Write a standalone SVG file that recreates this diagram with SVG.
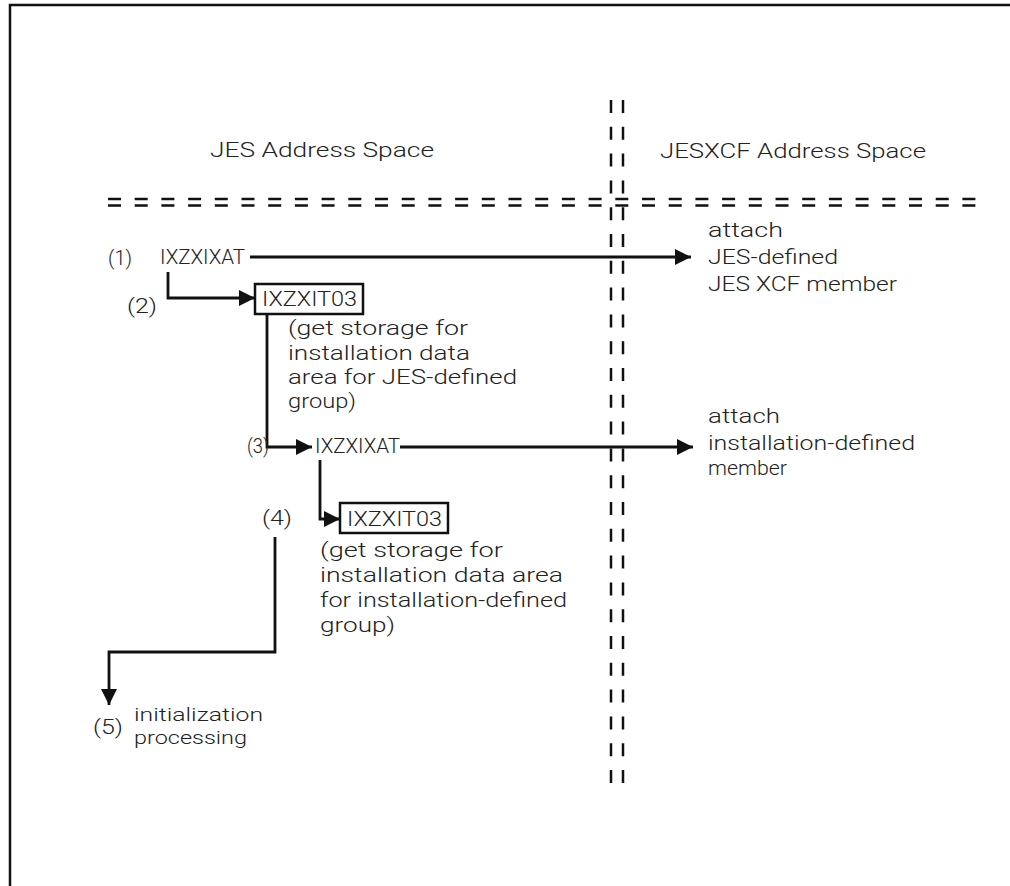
<svg xmlns="http://www.w3.org/2000/svg" width="1010" height="886" viewBox="0 0 1010 886">
<style>
.t{font-family:Roboto,"Liberation Sans",Arial,sans-serif;font-weight:300;font-size:20px;fill:#222;}
.s{font-size:19px;}
.c{font-family:Roboto,"Liberation Sans",Arial,sans-serif;font-weight:300;font-size:21px;fill:#222;}
.ln{fill:none;stroke:#111;stroke-width:2.8;}
.box{fill:#fff;stroke:#111;stroke-width:2.5;}
.dh{fill:none;stroke:#111;stroke-width:2.5;stroke-dasharray:13 13.7;}
.dv{fill:none;stroke:#111;stroke-width:2.5;stroke-dasharray:13 13.8;}
</style>
<defs>
<marker id="ah" markerUnits="userSpaceOnUse" markerWidth="16" markerHeight="16" refX="16" refY="8" orient="auto">
<path d="M0,0 L16,8 L0,16 z" fill="#111"/>
</marker>
</defs>
<rect width="1010" height="886" fill="#fff"/>
<g id="frame">
<path d="M10,886 V5 H1010" fill="none" stroke="#111" stroke-width="2.5"/>
</g>
<g id="separators">
<line class="dh" x1="108" y1="199" x2="986" y2="199"/>
<line class="dh" x1="108" y1="205.5" x2="986" y2="205.5"/>
<line class="dv" x1="611" y1="100" x2="611" y2="787"/>
<line class="dv" x1="623" y1="100" x2="623" y2="787"/>
</g>
<g id="hdr-jes"><text class="t" x="210" y="157" textLength="224" lengthAdjust="spacingAndGlyphs">JES Address Space</text></g>
<g id="hdr-jesxcf"><text class="t" x="660" y="158" textLength="266" lengthAdjust="spacingAndGlyphs">JESXCF Address Space</text></g>
<g id="connectors">
<line class="ln" x1="250" y1="257" x2="691" y2="257" marker-end="url(#ah)"/>
<polyline class="ln" points="168,272 168,298 255,298" marker-end="url(#ah)"/>
<polyline class="ln" points="267,314 267,447 312,447" marker-end="url(#ah)"/>
<line class="ln" x1="400" y1="447" x2="693" y2="447" marker-end="url(#ah)"/>
<polyline class="ln" points="320,460 320,519 340,519" marker-end="url(#ah)"/>
<polyline class="ln" points="275,537 275,652 109,652 109,705" marker-end="url(#ah)"/>
</g>
<g id="step1">
<text class="c" x="108" y="265" textLength="24" lengthAdjust="spacingAndGlyphs">(1)</text>
<text class="c" x="160" y="264" textLength="85" lengthAdjust="spacingAndGlyphs">IXZXIXAT</text>
</g>
<g id="attach1">
<text class="t" x="708" y="237" textLength="75" lengthAdjust="spacingAndGlyphs">attach</text>
<text class="t" x="708" y="264" textLength="130" lengthAdjust="spacingAndGlyphs">JES-defined</text>
<text class="t" x="708" y="291" textLength="189" lengthAdjust="spacingAndGlyphs">JES XCF member</text>
</g>
<g id="step2">
<text class="c" x="127" y="313" textLength="30" lengthAdjust="spacingAndGlyphs">(2)</text>
<rect class="box" x="255" y="284" width="108" height="30"/>
<text class="c" x="262" y="306" textLength="95" lengthAdjust="spacingAndGlyphs">IXZXIT03</text>
</g>
<g id="desc1">
<text class="t" x="288" y="335" textLength="180" lengthAdjust="spacingAndGlyphs">(get storage for</text>
<text class="t" x="288" y="360" textLength="182" lengthAdjust="spacingAndGlyphs">installation data</text>
<text class="t" x="288" y="384" textLength="229" lengthAdjust="spacingAndGlyphs">area for JES-defined</text>
<text class="t" x="288" y="408" textLength="68" lengthAdjust="spacingAndGlyphs">group)</text>
</g>
<g id="step3">
<text class="c" x="247" y="453" textLength="22" lengthAdjust="spacingAndGlyphs">(3)</text>
<text class="c" x="315" y="453" textLength="85" lengthAdjust="spacingAndGlyphs">IXZXIXAT</text>
</g>
<g id="attach2">
<text class="t" x="708" y="423" textLength="72" lengthAdjust="spacingAndGlyphs">attach</text>
<text class="t" x="708" y="450" textLength="207" lengthAdjust="spacingAndGlyphs">installation-defined</text>
<text class="t" x="708" y="475" textLength="79" lengthAdjust="spacingAndGlyphs">member</text>
</g>
<g id="step4">
<text class="c" x="262" y="525" textLength="30" lengthAdjust="spacingAndGlyphs">(4)</text>
<rect class="box" x="340" y="503" width="108" height="30"/>
<text class="c" x="347" y="526" textLength="95" lengthAdjust="spacingAndGlyphs">IXZXIT03</text>
</g>
<g id="desc2">
<text class="t" x="320" y="557" textLength="183" lengthAdjust="spacingAndGlyphs">(get storage for</text>
<text class="t" x="320" y="582" textLength="243" lengthAdjust="spacingAndGlyphs">installation data area</text>
<text class="t" x="320" y="607" textLength="247" lengthAdjust="spacingAndGlyphs">for installation-defined</text>
<text class="t" x="320" y="632" textLength="75" lengthAdjust="spacingAndGlyphs">group)</text>
</g>
<g id="step5">
<text class="c" x="93" y="734" textLength="30" lengthAdjust="spacingAndGlyphs">(5)</text>
<text class="t s" x="134" y="721" textLength="129" lengthAdjust="spacingAndGlyphs">initialization</text>
<text class="t s" x="134" y="744" textLength="113" lengthAdjust="spacingAndGlyphs">processing</text>
</g>
</svg>
